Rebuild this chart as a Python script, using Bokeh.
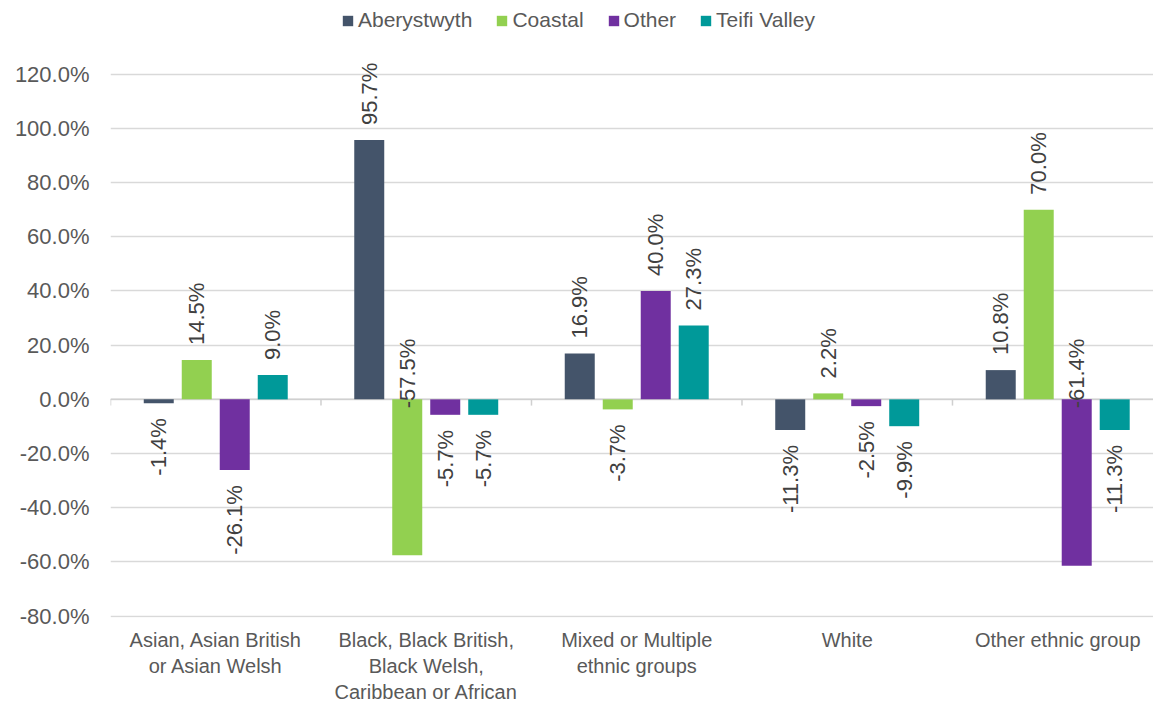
import math
from bokeh.plotting import figure
from bokeh.models import (Range1d, FixedTicker, PrintfTickFormatter, LinearAxis,
                          Legend, LegendItem, ColumnDataSource)
from bokeh.core.properties import value
from bokeh.embed import file_html
from bokeh.resources import INLINE

categories = ["Asian, Asian British\nor Asian Welsh",
              "Black, Black British,\nBlack Welsh,\nCaribbean or African",
              "Mixed or Multiple\nethnic groups",
              "White",
              "Other ethnic group"]
series = ["Aberystwyth", "Coastal", "Other", "Teifi Valley"]
aberystwyth = [-1.4, 95.7, 16.9, -11.3, 10.8]
coastal = [14.5, -57.5, -3.7, 2.2, 70.0]
other = [-26.1, -5.7, 40.0, -2.5, -61.4]
teifi_valley = [9.0, -5.7, 27.3, -9.9, -11.3]
y_ticks = [-80, -60, -40, -20, 0, 20, 40, 60, 80, 100, 120]

colors = ["#44546A", "#92D050", "#7030A0", "#009999"]
all_values = [aberystwyth, coastal, other, teifi_valley]

FONT = "Liberation Sans"
ncat = len(categories)

p = figure(width=1153, height=708, output_backend="svg", toolbar_location=None,
           x_range=Range1d(0, 4.955), y_range=Range1d(-80.5, 147.2),
           min_border_left=110, min_border_right=0, min_border_top=0,
           min_border_bottom=91)
p.outline_line_color = None
p.xaxis.visible = False
p.xgrid.visible = False
p.background_fill_color = "white"

# y axis
p.yaxis.ticker = FixedTicker(ticks=y_ticks)
p.yaxis.formatter = PrintfTickFormatter(format="%.1f%%")
p.yaxis.axis_line_color = None
p.yaxis.major_tick_line_color = None
p.yaxis.minor_tick_line_color = None
p.yaxis.major_tick_out = 0
p.yaxis.major_tick_in = 0
p.yaxis.major_label_text_font = FONT
p.yaxis.major_label_text_font_size = "22px"
p.yaxis.major_label_text_color = "#595959"
p.yaxis.major_label_standoff = 21
p.ygrid.ticker = FixedTicker(ticks=y_ticks)
p.ygrid.grid_line_color = "#d9d9d9"
p.ygrid.grid_line_width = 1.3

# category axis
cat_axis = LinearAxis(ticker=FixedTicker(ticks=[i + 0.5 for i in range(ncat)]),
                      major_label_overrides={i + 0.5: c for i, c in enumerate(categories)})
cat_axis.axis_line_color = None
cat_axis.major_tick_line_color = None
cat_axis.minor_tick_line_color = None
cat_axis.major_tick_out = 0
cat_axis.major_tick_in = 0
cat_axis.major_label_text_font = FONT
cat_axis.major_label_text_font_size = "20px"
cat_axis.major_label_text_color = "#595959"
cat_axis.major_label_standoff = 11
p.add_layout(cat_axis, "below")

# zero line with boundary ticks
p.segment(x0=[0], x1=[ncat], y0=[0], y1=[0], line_color="#d0d0d0", line_width=1.5)
p.segment(x0=list(range(ncat + 1)), x1=list(range(ncat + 1)),
          y0=[0] * (ncat + 1), y1=[-2.3] * (ncat + 1), line_color="#d0d0d0", line_width=1.5)

bar_w = 0.1425
step = 0.1805
offsets = [-1.5 * step, -0.5 * step, 0.5 * step, 1.5 * step]
items = []
for s, vals, col, off in zip(series, all_values, colors, offsets):
    xs = [i + 0.5 + off for i in range(ncat)]
    src = ColumnDataSource(dict(x=xs, top=vals, bottom=[0] * ncat))
    r = p.vbar(x="x", top="top", bottom="bottom", width=bar_w, source=src,
               fill_color=col, line_color=None)
    items.append(LegendItem(label=s, renderers=[r]))

    # labels
    pos = [(x, v) for x, v in zip(xs, vals) if v >= 0]
    neg = [(x, v) for x, v in zip(xs, vals) if -50 <= v < 0]
    base = [(x, v) for x, v in zip(xs, vals) if v < -50]
    common = dict(angle=math.pi / 2, text_font=value(FONT), text_font_size="22px",
                  text_color="#404040", text_baseline="middle")
    if pos:
        p.text(x=[a for a, _ in pos], y=[b for _, b in pos],
               text=["%.1f%%" % b for _, b in pos], text_align="left",
               y_offset=-15, **common)
    if neg:
        p.text(x=[a for a, _ in neg], y=[b for _, b in neg],
               text=["%.1f%%" % b for _, b in neg], text_align="right",
               y_offset=15, **common)
    if base:
        p.text(x=[a for a, _ in base], y=[0 for _ in base],
               text=["%.1f%%" % b for _, b in base], text_align="left",
               y_offset=9, **common)

legend = Legend(items=items, orientation="horizontal", location=(231, 585),
                label_text_font=FONT, label_text_font_size="21px",
                label_text_color="#595959", glyph_width=13, glyph_height=13,
                label_standoff=4, spacing=23, padding=0, margin=0,
                border_line_color=None, background_fill_alpha=0)
p.add_layout(legend)

open("out.html", "w").write(file_html(p, INLINE))
